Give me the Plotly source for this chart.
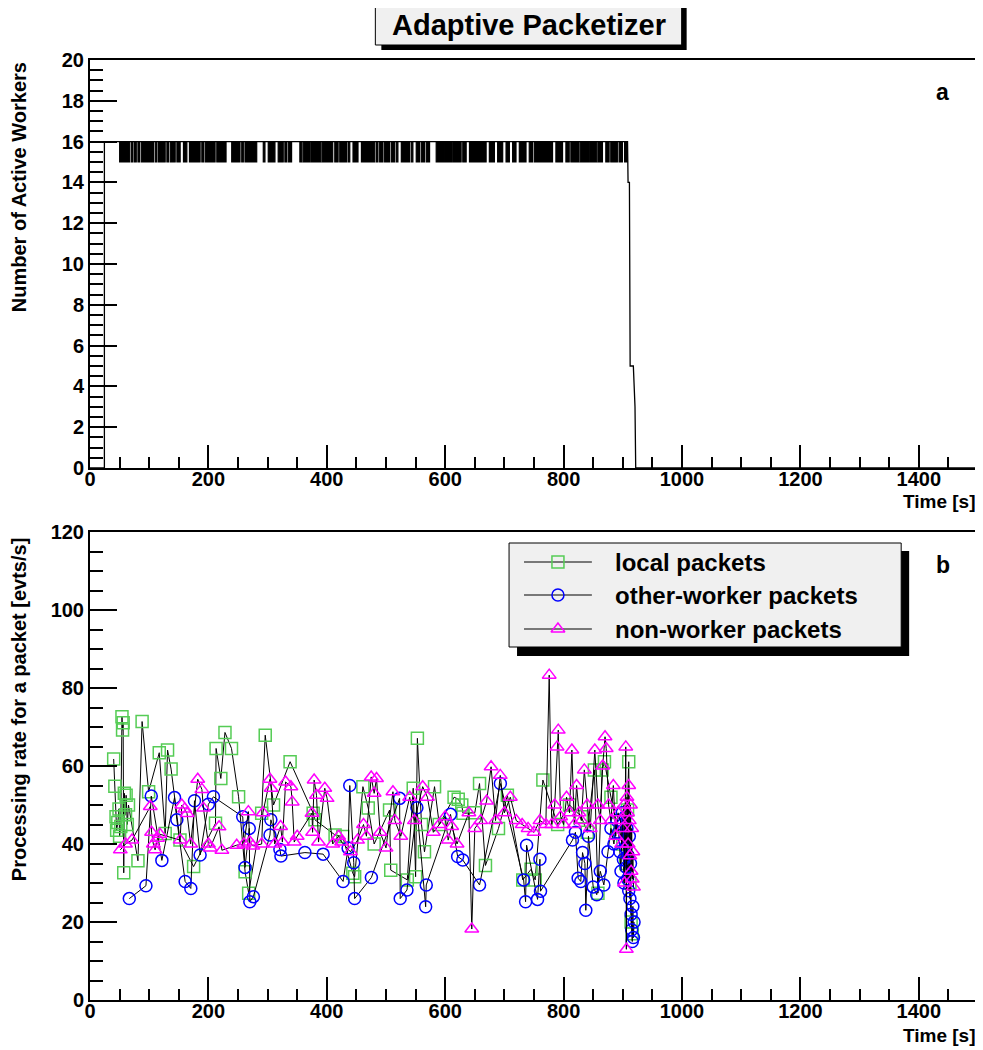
import plotly.graph_objects as go

# ── Panel a: number of active workers ────────────────────────────────────────
# main step curve (start-up and ramp-down)
worker_times = [0, 24.3, 24.3, 908.0, 908.9, 911.2, 912.4, 917.8, 920.6, 921.8, 1500]
worker_counts = [0, 0, 16, 16, 14, 14, 5, 5, 3, 0, 0]

# intervals [s] where one worker is briefly idle (16 -> 15 flicker)
dip_start = [50.1, 69.8, 75.3, 81.0, 86.6, 110.2, 115.8, 129.9, 135.5, 146.8,
             157.9, 168.0, 188.9, 194.4, 214.2, 239.4, 256.3, 261.8, 292.7, 301.1,
             317.9, 329.2, 334.8, 354.5, 360.0, 374.0, 392.0, 413.5, 421.9, 435.9,
             444.3, 458.5, 483.7, 489.3, 497.7, 509.0, 517.4, 525.9, 542.7, 551.1,
             559.6, 568.0, 584.8, 599.0, 614.0, 629.7, 641.0, 674.6, 688.6, 702.8,
             713.9, 725.2, 742.0, 750.5, 787.0, 803.9, 812.3, 828.0, 844.0, 858.0,
             871.3, 879.7, 893.7, 903.0]
dip_end = [67.0, 72.6, 78.2, 83.7, 107.3, 113.1, 127.0, 132.6, 143.9, 152.3,
           163.6, 186.0, 191.6, 211.3, 229.8, 253.4, 259.0, 281.6, 295.5, 312.4,
           326.4, 332.1, 340.5, 357.9, 372.0, 390.0, 410.0, 419.1, 433.2, 438.8,
           452.7, 481.0, 486.4, 494.9, 506.1, 514.6, 520.1, 539.9, 545.4, 556.7,
           565.1, 573.6, 597.0, 612.0, 626.9, 635.4, 669.1, 683.1, 697.1, 708.4,
           719.6, 736.5, 747.6, 781.3, 798.2, 809.5, 826.0, 842.0, 856.0, 865.6,
           876.9, 890.8, 899.3, 907.5]

# ── Panel b: processing rate per packet ──────────────────────────────────────
local_t = [40, 42, 44, 45, 47, 49, 50, 52, 54, 55, 56, 57, 58, 60, 61, 63, 65,
           81, 88, 99, 117, 127, 131, 137, 152, 175, 212, 213, 221, 228, 239,
           251, 262, 268, 290, 296, 310, 338, 377, 380, 414, 427, 444, 447, 461,
           470, 480, 506, 508, 536, 546, 550, 553, 560, 565, 582, 590, 615, 622,
           628, 630, 650, 658, 668, 690, 705, 731, 745, 752, 765, 790, 810, 830,
           840, 852, 858, 865, 869, 880, 890, 895, 900, 905, 908, 910, 912, 914,
           916]
local_r = [61.8, 54.8, 47.0, 43.5, 45.5, 49.0, 42.0, 44.5, 72.6, 69.2, 71.1,
           32.6, 53.0, 47.5, 52.5, 45.0, 50.0, 35.7, 71.4, 53.4, 63.4, 42.7,
           64.1, 59.2, 41.0, 34.2, 45.3, 64.5, 56.8, 68.6, 64.5, 52.1, 32.9,
           27.4, 47.9, 67.9, 50.0, 61.1, 47.9, 46.2, 42.3, 41.9, 32.5, 31.6,
           54.7, 49.2, 40.0, 48.7, 33.3, 30.8, 54.3, 31.6, 67.1, 45.0, 38.0,
           54.7, 45.0, 52.0, 51.5, 50.0, 47.9, 48.0, 55.5, 34.5, 44.0, 52.5,
           30.8, 33.5, 30.8, 56.4, 45.0, 50.0, 47.0, 43.0, 59.0, 27.4, 59.0,
           61.1, 52.0, 45.0, 43.0, 40.0, 35.0, 48.7, 61.1, 30.0, 20.0, 17.0]

other_t = [66.4, 94.5, 103.5, 121.4, 142.8, 146.7, 160.7, 170.3, 176.5, 186,
           200, 208.5, 258, 261.8, 269, 270, 276, 304, 305.5, 320.8, 322.5,
           363, 393.8, 427.5, 436, 438.8, 445.5, 447, 475.3, 523, 524, 535.4,
           552.2, 567, 568, 609, 621, 629.7, 658, 693.2, 732.5, 735.8, 737.5,
           756, 760, 761, 815, 820, 824.6, 829, 832, 836, 837.5, 842, 850, 856,
           862, 868, 875, 880, 885, 890, 893, 895, 897, 899, 900, 901, 902, 903,
           904, 905, 906, 907, 908, 909, 910, 911, 912, 913, 914, 915, 916, 917,
           918, 919]
other_r = [26.0, 29.3, 52.3, 35.8, 51.9, 46.2, 30.4, 28.6, 51.1, 37.2, 50.2,
           52.1, 47.0, 34.0, 44.0, 25.2, 26.5, 42.3, 46.2, 38.6, 36.9, 37.8,
           37.4, 30.4, 39.0, 55.0, 35.2, 26.0, 31.4, 51.7, 26.0, 28.2, 49.3,
           23.9, 29.5, 47.6, 36.8, 35.9, 29.5, 55.5, 30.8, 25.2, 39.7, 25.8,
           36.1, 27.9, 41.0, 43.0, 31.2, 30.4, 37.8, 35.0, 23.0, 42.0, 29.0,
           27.0, 33.0, 29.5, 38.0, 44.0, 40.0, 46.0, 43.0, 38.0, 33.0, 48.0,
           45.0, 36.0, 30.0, 41.0, 47.0, 39.0, 34.0, 44.0, 31.0, 37.0, 28.0,
           42.0, 26.0, 35.0, 22.0, 18.0, 15.0, 24.0, 16.0, 20.0]

nonw_t = [51.2, 60, 70.9, 101.8, 104, 107, 110, 114, 118, 152.3, 155, 160, 164,
          170, 182, 189, 191.6, 200, 203, 218, 222.8, 247.8, 260, 267.5, 270,
          275, 290, 292, 304, 306, 312, 322, 325, 330.4, 339.4, 341.6, 345, 350,
          375, 376, 378.6, 382.6, 386, 396.6, 400.5, 410, 420, 425, 440, 452,
          462, 467, 475, 480, 484, 490, 500, 511.7, 515, 525, 540, 548, 562,
          570, 580, 590, 600, 605, 611, 620, 640, 644.9, 650, 660, 670, 677.5,
          685, 693, 700, 710, 720, 730, 740, 750, 760, 770, 775.7, 780, 785,
          789, 791, 795, 800, 805, 810, 814, 818, 822, 826, 830, 835, 840, 845,
          852.7, 858, 862, 866, 870, 872, 876, 880, 884, 888, 892, 896, 898,
          900, 902, 903, 905, 906, 907, 908, 909, 910, 911, 912, 913, 914, 915,
          916, 917, 918]
nonw_r = [38.5, 40.0, 41.0, 49.6, 43.0, 40.0, 38.5, 41.5, 42.5, 41.0, 50.0,
          49.0, 47.8, 40.0, 56.6, 54.0, 49.2, 40.0, 39.0, 44.4, 38.4, 39.7,
          40.0, 48.3, 40.5, 39.5, 40.0, 48.0, 56.6, 54.3, 40.0, 44.5, 40.5,
          55.9, 54.7, 50.8, 40.5, 42.0, 47.9, 43.0, 56.4, 52.5, 40.5, 54.3,
          51.7, 40.0, 42.0, 40.5, 38.0, 41.0, 45.0, 42.0, 57.2, 53.0, 56.8,
          43.0, 39.0, 53.4, 46.0, 42.0, 52.0, 46.0, 54.7, 52.0, 43.0, 45.0,
          47.0, 41.0, 44.5, 40.0, 48.0, 18.2, 44.0, 46.0, 51.0, 59.8, 46.0,
          57.6, 48.0, 52.0, 46.0, 45.0, 44.0, 43.0, 46.0, 45.0, 83.3, 45.0,
          50.0, 64.9, 69.2, 47.0, 45.0, 52.0, 48.0, 64.1, 45.0, 55.0, 48.0,
          46.0, 59.0, 50.0, 44.0, 64.1, 50.0, 46.0, 60.0, 67.5, 64.5, 50.0,
          46.0, 55.0, 42.0, 48.0, 46.0, 40.0, 44.0, 50.0, 30.0, 64.9, 13.0,
          52.0, 48.0, 40.0, 55.0, 46.0, 37.0, 50.0, 33.0, 44.0, 31.0, 38.0,
          29.0]

legend_labels = ["local packets", "other-worker packets", "non-worker packets"]
series_colors = ["#55cc55", "#0000ff", "#ff00ff"]
series_symbols = ["square-open", "circle-open", "triangle-up-open"]

# ── geometry (page pixels; the page body adds an 8 px offset) ────────────────
OFF = 8
W, H = 983 - OFF, 1050 - OFF
ML, MR, MT, MB = 90 - OFF, 3, 60 - OFF, 50


def xp(px):
    """page x pixel -> paper x"""
    return (px - OFF - ML) / (W - ML - MR)


def yp(py):
    """page y pixel -> paper y"""
    return (H - MB - (py - OFF)) / (H - MT - MB)


BOLD = dict(family="Liberation Sans, Arial, sans-serif", color="black", weight="bold")

fig = go.Figure()

# panel a: flicker bars between 15 and 16
bar_x, bar_y = [], []
for s, e in zip(dip_start, dip_end):
    bar_x += [s, s, e, e, s, None]
    bar_y += [16, 15, 15, 16, 16, None]
fig.add_trace(go.Scatter(x=bar_x, y=bar_y, mode="lines", fill="toself",
                         fillcolor="black", line=dict(color="black", width=1.2),
                         xaxis="x", yaxis="y", showlegend=False, hoverinfo="skip"))
fig.add_trace(go.Scatter(x=worker_times, y=worker_counts, mode="lines",
                         line=dict(color="black", width=1.3),
                         xaxis="x", yaxis="y", showlegend=False))

# panel b: three packet classes
for t, r, col, sym, name in zip([local_t, other_t, nonw_t], [local_r, other_r, nonw_r],
                                series_colors, series_symbols, legend_labels):
    fig.add_trace(go.Scatter(
        x=t, y=r, mode="lines+markers", name=name,
        line=dict(color="black", width=1),
        marker=dict(symbol=sym, size=12, color=col, line=dict(color=col, width=1.5)),
        xaxis="x2", yaxis="y2", showlegend=False,
    ))

# legend sample markers on a page-pixel overlay axis
leg_rows = [562, 595, 629]
fig.add_trace(go.Scatter(
    x=[559] * 3, y=leg_rows, mode="markers",
    marker=dict(symbol=series_symbols, size=12, color=series_colors,
                line=dict(color=series_colors, width=1.5)),
    xaxis="x3", yaxis="y3", showlegend=False, hoverinfo="skip",
))

axis_common = dict(showline=True, linecolor="black", linewidth=2, mirror=True,
                   showgrid=False, zeroline=False, ticks="inside", tickcolor="black",
                   tickwidth=1.5, tickfont=dict(size=20, **BOLD))
xaxis_style = dict(axis_common, range=[0, 1500], dtick=200, tick0=0, ticklen=23,
                   ticklabelstandoff=-8,
                   minor=dict(ticks="inside", ticklen=11, dtick=50, tickcolor="black",
                              tickwidth=1.5, showgrid=False))

shapes = []
# title box with shadow
shapes.append(dict(type="rect", xref="paper", yref="paper", x0=xp(382), x1=xp(688),
                   y0=yp(50), y1=yp(8), fillcolor="black", line=dict(width=0)))
shapes.append(dict(type="rect", xref="paper", yref="paper", x0=xp(376), x1=xp(683),
                   y0=yp(45), y1=yp(3), fillcolor="#f0f0f0", line=dict(color="black", width=1)))
# legend box with shadow
shapes.append(dict(type="rect", xref="paper", yref="paper", x0=xp(518), x1=xp(911),
                   y0=yp(656), y1=yp(551), fillcolor="black", line=dict(width=0), layer="below"))
shapes.append(dict(type="rect", xref="paper", yref="paper", x0=xp(510), x1=xp(903),
                   y0=yp(647), y1=yp(543), fillcolor="#f0f0f0",
                   line=dict(color="black", width=1), layer="below"))
for row in leg_rows:
    shapes.append(dict(type="line", xref="paper", yref="paper", x0=xp(525), x1=xp(593),
                       y0=yp(row), y1=yp(row), line=dict(color="black", width=1.2), layer="below"))


def label(text, x, y, size, **kw):
    d = dict(text=text, x=xp(x), y=yp(y), xref="paper", yref="paper", showarrow=False,
             xanchor="center", yanchor="middle", font=dict(size=size, **BOLD))
    d.update(kw)
    return d


annotations = [
    label("Adaptive Packetizer", 529.5, 25, 29),
    label("a", 944, 92, 23),
    label("b", 945, 565, 23),
    label("Number of Active Workers", 19, 187, 20, textangle=-90),
    label("Processing rate for a packet [evts/s]", 19, 710, 20, textangle=-90),
    label("Time [s]", 980, 502, 19, xanchor="right"),
    label("Time [s]", 980, 1035, 19, xanchor="right"),
]
for row, text in zip(leg_rows, legend_labels):
    annotations.append(label(text, 614, row, 24, xanchor="left"))

fig.update_layout(
    width=W, height=H,
    margin=dict(l=ML, r=MR, t=MT, b=MB),
    paper_bgcolor="white", plot_bgcolor="rgba(0,0,0,0)",
    showlegend=False,
    xaxis=dict(xaxis_style, anchor="y", domain=[0, 1]),
    yaxis=dict(axis_common, range=[0, 20], dtick=2, tick0=0, ticklen=27,
               domain=[yp(468), 1], anchor="x",
               minor=dict(ticks="inside", ticklen=13, dtick=0.5, tickcolor="black",
                          tickwidth=1.5, showgrid=False)),
    xaxis2=dict(xaxis_style, anchor="y2", domain=[0, 1]),
    yaxis2=dict(axis_common, range=[0, 120], dtick=20, tick0=0, ticklen=27,
                domain=[0, yp(532)], anchor="x2",
                minor=dict(ticks="inside", ticklen=13, dtick=5, tickcolor="black",
                           tickwidth=1.5, showgrid=False)),
    xaxis3=dict(range=[90, 980], domain=[0, 1], anchor="y3", visible=False),
    yaxis3=dict(range=[1000, 60], domain=[0, 1], anchor="x3", visible=False),
    shapes=shapes,
    annotations=annotations,
)

fig.write_html("out.html")
